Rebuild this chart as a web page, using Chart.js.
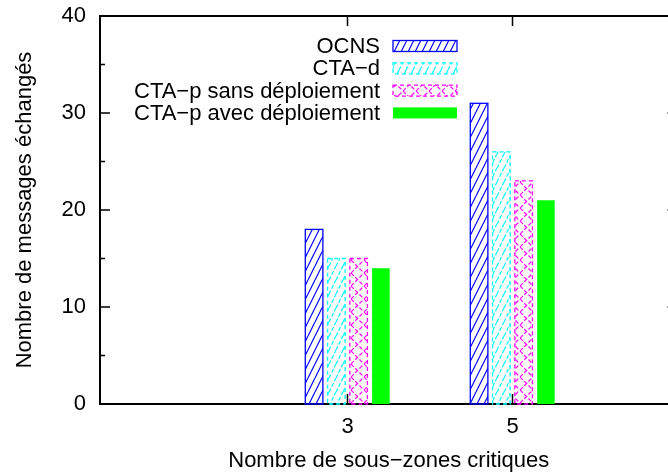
<!DOCTYPE html>
<html>
<head>
<meta charset="utf-8">
<script src="https://cdn.jsdelivr.net/npm/chart.js@4.4.0/dist/chart.umd.min.js"></script>
<style>
  body { margin: 0; overflow: hidden; background: #fff; }
  #wrap { width: 690px; height: 474px; position: relative; }
</style>
</head>
<body>
<div id="wrap"><canvas id="chart"></canvas></div>
<script>
const categories = [3, 5];
const seriesNames = ["OCNS", "CTA\u2212d", "CTA\u2212p sans déploiement", "CTA\u2212p avec déploiement"];
const ocns = [18, 31];
const ctaD = [15, 26];
const ctaPSans = [15, 23];
const ctaPAvec = [14, 21];
const yMajorTicks = [0, 10, 20, 30, 40];
const yMinorTicks = [5, 15, 25, 35];
const xAxisTitle = "Nombre de sous\u2212zones critiques";
const yAxisTitle = "Nombre de messages échangés";

const FONT = "'Liberation Sans', Arial, Helvetica, sans-serif";
const FONT_SIZE = 22;

function makePattern(color, kind, dash) {
  const w = kind === "cross" ? 13 : 7;
  const h = kind === "cross" ? 13 : 14;
  const tile = document.createElement("canvas");
  tile.width = w;
  tile.height = h;
  const c = tile.getContext("2d");
  c.strokeStyle = color;
  c.lineWidth = 1.2;
  if (dash) c.setLineDash(dash);
  c.beginPath();
  if (kind === "slash") {
    c.moveTo(0, h); c.lineTo(w, 0);
    c.moveTo(-w, h); c.lineTo(0, 0);
    c.moveTo(w, h); c.lineTo(2 * w, 0);
  } else {
    c.moveTo(0, 0); c.lineTo(w, h);
    c.moveTo(0, h); c.lineTo(w, 0);
  }
  c.stroke();
  return c.createPattern(tile, "repeat");
}

const styles = [
  { color: "#0000ff", fill: makePattern("#0000ff", "slash", null), dash: [] },
  { color: "#00ffff", fill: makePattern("#00ffff", "slash", [4, 2]), dash: [4, 3] },
  { color: "#ff00ff", fill: makePattern("#ff00ff", "cross", [4, 2]), dash: [4, 3] },
  { color: "#00ff00", fill: "#00ff00", dash: null }
];

const seriesValues = [ocns, ctaD, ctaPSans, ctaPAvec];

function toPoints(values) {
  return categories.map((c, i) => ({ x: c, y: values[i] }));
}

// bar outlines (dashed for some series), drawn from the bar elements
const barOutlines = {
  id: "barOutlines",
  afterDatasetsDraw(chart) {
    const ctx = chart.ctx;
    ctx.save();
    chart.data.datasets.forEach((ds, i) => {
      const st = styles[i];
      if (!st.dash) return;
      ctx.strokeStyle = st.color;
      ctx.lineWidth = 1.3;
      ctx.setLineDash(st.dash);
      chart.getDatasetMeta(i).data.forEach((bar) => {
        const p = bar.getProps(["x", "y", "base", "width"], true);
        ctx.strokeRect(p.x - p.width / 2, p.y, p.width, p.base - p.y);
      });
    });
    ctx.restore();
  }
};

// gnuplot-like frame: top/right border, inward ticks, mirror ticks
const frame = {
  id: "frame",
  afterDraw(chart) {
    const { ctx, chartArea: a, scales } = chart;
    const x = scales.x;
    const y = scales.y;
    ctx.save();
    ctx.strokeStyle = "#000";
    ctx.lineWidth = 2;
    ctx.beginPath();
    ctx.moveTo(a.left - 1, a.top);
    ctx.lineTo(a.right, a.top);
    ctx.lineTo(a.right, a.bottom);
    ctx.stroke();

    ctx.lineWidth = 1.5;
    ctx.beginPath();
    yMajorTicks.forEach((v) => {
      const p = y.getPixelForValue(v);
      ctx.moveTo(a.left, p); ctx.lineTo(a.left + 10, p);
      ctx.moveTo(a.right - 10, p); ctx.lineTo(a.right, p);
    });
    yMinorTicks.forEach((v) => {
      const p = y.getPixelForValue(v);
      ctx.moveTo(a.left, p); ctx.lineTo(a.left + 5, p);
      ctx.moveTo(a.right - 5, p); ctx.lineTo(a.right, p);
    });
    categories.forEach((v) => {
      const p = x.getPixelForValue(v);
      ctx.moveTo(p, a.bottom); ctx.lineTo(p, a.bottom - 10);
      ctx.moveTo(p, a.top); ctx.lineTo(p, a.top + 10);
    });
    ctx.stroke();
    ctx.restore();
  }
};

// legend: text right-aligned, sample box on the right
const legendBox = {
  id: "legendBox",
  afterDraw(chart) {
    const ctx = chart.ctx;
    ctx.save();
    ctx.font = FONT_SIZE + "px " + FONT;
    ctx.textAlign = "right";
    ctx.textBaseline = "middle";
    seriesNames.forEach((name, i) => {
      const cy = 46 + i * 22.3;
      ctx.fillStyle = "#000";
      ctx.fillText(name, 380, cy + 1);
      const st = styles[i];
      ctx.fillStyle = st.fill;
      ctx.fillRect(393, cy - 5.5, 64, 11);
      if (st.dash) {
        ctx.strokeStyle = st.color;
        ctx.lineWidth = 1.3;
        ctx.setLineDash(st.dash);
        ctx.strokeRect(393, cy - 5.5, 64, 11);
        ctx.setLineDash([]);
      }
    });
    ctx.restore();
  }
};

Chart.defaults.font.family = FONT;
Chart.defaults.font.size = FONT_SIZE;
Chart.defaults.color = "#000";

new Chart(document.getElementById("chart"), {
  type: "bar",
  data: {
    datasets: seriesValues.map((vals, i) => ({
      label: seriesNames[i],
      data: toPoints(vals),
      backgroundColor: styles[i].fill,
      borderWidth: 0,
      categoryPercentage: 0.54,
      barPercentage: 0.79
    }))
  },
  options: {
    responsive: true,
    maintainAspectRatio: false,
    animation: false,
    layout: { padding: { top: 16, right: 12.5, left: 0, bottom: 0 } },
    plugins: { legend: { display: false }, tooltip: { enabled: false } },
    scales: {
      x: {
        type: "linear",
        min: 0,
        max: 7,
        offset: false,
        grid: { display: false, drawTicks: false },
        border: { display: true, color: "#000", width: 2 },
        afterBuildTicks: (scale) => {
          scale.ticks = categories.map((v) => ({ value: v }));
        },
        afterFit: (scale) => {
          scale.height = 70;
          scale.paddingLeft = 0;
          scale.paddingRight = 0;
        },
        ticks: {
          padding: 10,
          callback: (v) => String(v)
        },
        title: {
          display: true,
          text: xAxisTitle,
          padding: { top: 1, bottom: 0 }
        }
      },
      y: {
        min: 0,
        max: 40,
        grid: { display: false, drawTicks: false },
        border: { display: true, color: "#000", width: 2 },
        afterBuildTicks: (scale) => {
          scale.ticks = yMajorTicks.map((v) => ({ value: v }));
        },
        afterFit: (scale) => {
          scale.width = 100;
          scale.paddingTop = 0;
          scale.paddingBottom = 0;
        },
        ticks: { padding: 14 },
        title: {
          display: true,
          text: yAxisTitle,
          padding: { top: 12, bottom: 0 }
        }
      }
    }
  },
  plugins: [barOutlines, frame, legendBox]
});
</script>
</body>
</html>
